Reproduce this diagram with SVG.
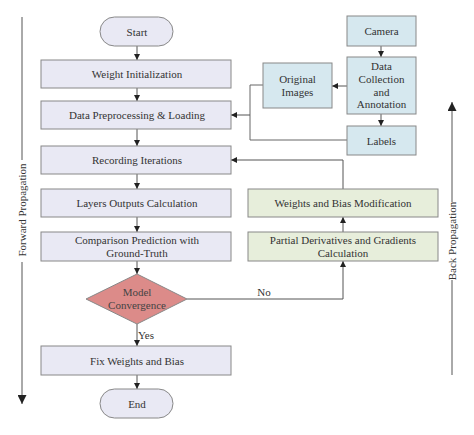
<svg xmlns="http://www.w3.org/2000/svg" width="474" height="435" viewBox="0 0 474 435">
<defs>
<marker id="ah" viewBox="0 0 10 10" refX="10" refY="5" markerWidth="6" markerHeight="6" orient="auto" markerUnits="userSpaceOnUse">
<path d="M0,0 L10,5 L0,10 z" fill="#222"/>
</marker>
<marker id="ahb" viewBox="0 0 10 10" refX="10" refY="5" markerWidth="9" markerHeight="9" orient="auto" markerUnits="userSpaceOnUse">
<path d="M0,0 L10,5 L0,10 z" fill="#222"/>
</marker>
</defs>
<style>
.t{font-family:"Liberation Serif","Times New Roman",serif;font-size:11px;fill:#333;text-anchor:middle;dominant-baseline:central}
.p{fill:#e9e9f4;stroke:#888;stroke-width:1}
.b{fill:#d6e8ef;stroke:#888;stroke-width:1}
.g{fill:#e7eedb;stroke:#888;stroke-width:1}
.d{fill:#dc8b89;stroke:#888;stroke-width:1}
.c{fill:none;stroke:#666;stroke-width:1}
.ca{fill:none;stroke:#555;stroke-width:1;marker-end:url(#ah)}
.s{fill:none;stroke:#555;stroke-width:1}
</style>
<rect width="474" height="435" fill="#fff"/>
<g id="connectors">
<line class="ca" x1="137" y1="46" x2="137" y2="60"/>
<line class="ca" x1="137" y1="88" x2="137" y2="101"/>
<line class="ca" x1="137" y1="129" x2="137" y2="146"/>
<line class="ca" x1="137" y1="174" x2="137" y2="189"/>
<line class="ca" x1="137" y1="217" x2="137" y2="232"/>
<line class="ca" x1="137" y1="261" x2="137" y2="274"/>
<line class="ca" x1="137" y1="324" x2="137" y2="346"/>
<line class="ca" x1="137" y1="375" x2="137" y2="389"/>
<line class="ca" x1="381" y1="46" x2="381" y2="57"/>
<line class="ca" x1="381" y1="114" x2="381" y2="126"/>
<line class="ca" x1="347" y1="86" x2="332" y2="86"/>
<polyline class="c" points="263,85 250,85 250,140 347,140"/>
<polyline class="ca" points="250,115 231,115"/>
<polyline class="ca" points="343,189 343,160 231,160"/>
<line class="ca" x1="343" y1="232" x2="343" y2="217"/>
<polyline class="ca" points="187,299 343,299 343,261"/>
<text class="t" x="146" y="335">Yes</text>
<text class="t" x="264" y="292">No</text>
</g>
<g id="forward-propagation">
<line class="s" x1="22" y1="17" x2="22" y2="160"/>
<line class="s" x1="22" y1="262" x2="22" y2="404" marker-end="url(#ahb)"/>
<text class="t" transform="translate(22,210) rotate(-90)">Forward Propagation</text>
</g>
<g id="back-propagation">
<line class="s" x1="452" y1="375" x2="452" y2="280"/>
<line class="s" x1="452" y1="202" x2="452" y2="102" marker-end="url(#ahb)"/>
<text class="t" transform="translate(452,241) rotate(-90)">Back Propagation</text>
</g>
<g id="start"><rect class="p" x="100" y="17" width="73" height="29" rx="14.5"/><text class="t" x="137" y="31.5">Start</text></g>
<g id="weight-init"><rect class="p" x="41" y="60" width="190" height="28"/><text class="t" x="137" y="74">Weight Initialization</text></g>
<g id="data-preprocessing"><rect class="p" x="41" y="101" width="190" height="28"/><text class="t" x="137" y="115">Data Preprocessing &amp; Loading</text></g>
<g id="recording"><rect class="p" x="41" y="146" width="190" height="28"/><text class="t" x="137" y="160">Recording Iterations</text></g>
<g id="layers-outputs"><rect class="p" x="41" y="189" width="190" height="28"/><text class="t" x="137" y="203">Layers Outputs Calculation</text></g>
<g id="comparison"><rect class="p" x="41" y="232" width="190" height="29"/><text class="t" x="137" y="240">Comparison Prediction with</text><text class="t" x="137" y="253">Ground-Truth</text></g>
<g id="model-convergence"><polygon class="d" points="137,274 187,299 137,324 86,299"/><text class="t" x="137" y="292" style="fill:#444">Model</text><text class="t" x="137" y="305" style="fill:#444">Convergence</text></g>
<g id="fix-weights"><rect class="p" x="41" y="346" width="190" height="29"/><text class="t" x="137" y="360.5">Fix Weights and Bias</text></g>
<g id="end"><rect class="p" x="100" y="389" width="73" height="29" rx="14.5"/><text class="t" x="137" y="403.5">End</text></g>
<g id="camera"><rect class="b" x="347" y="16" width="69" height="30"/><text class="t" x="381.5" y="31">Camera</text></g>
<g id="data-collection"><rect class="b" x="347" y="57" width="69" height="57"/><text class="t" x="381.5" y="66">Data</text><text class="t" x="381.5" y="79">Collection</text><text class="t" x="381.5" y="92">and</text><text class="t" x="381.5" y="104">Annotation</text></g>
<g id="original-images"><rect class="b" x="263" y="63" width="69" height="45"/><text class="t" x="297.5" y="79">Original</text><text class="t" x="297.5" y="92">Images</text></g>
<g id="labels"><rect class="b" x="347" y="126" width="69" height="29"/><text class="t" x="381.5" y="140.5">Labels</text></g>
<g id="weights-bias-mod"><rect class="g" x="248" y="189" width="190" height="28"/><text class="t" x="343" y="203">Weights and Bias Modification</text></g>
<g id="partial-derivatives"><rect class="g" x="248" y="232" width="190" height="29"/><text class="t" x="343" y="240">Partial Derivatives and Gradients</text><text class="t" x="343" y="253">Calculation</text></g>
</svg>
